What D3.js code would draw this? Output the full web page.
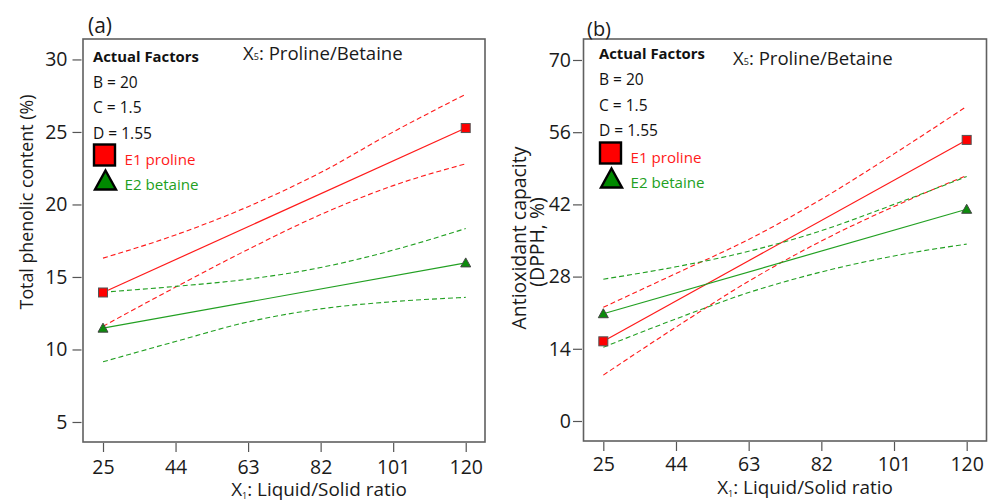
<!DOCTYPE html>
<html><head><meta charset="utf-8">
<script src="https://cdn.jsdelivr.net/npm/d3@7/dist/d3.min.js"></script>
<style>
body{margin:0;background:#fff;}
svg{display:block;font-family:"Open Sans","Noto Sans",sans-serif;}
</style>
</head><body>
<svg id="c" width="988" height="502"></svg>
<script>
// ---------- data ----------
const xLevels = [25, 44, 63, 82, 101, 120];
const xTickValues = [25, 44, 63, 82, 101, 120];
const fitEnds = [25, 120];
const factorLines = ["B = 20", "C = 1.5", "D = 1.55"];
const seriesNames = ["E1 proline", "E2 betaine"];

// panel (a): Total phenolic content (%)
const tpcTicks = [5, 10, 15, 20, 25, 30];
const tpcProlineFit = [13.93, 25.27];
const tpcProlineUpper = [16.3, 17.9, 19.85, 22.2, 25.0, 27.6];
const tpcProlineLower = [11.6, 14.3, 16.9, 19.3, 21.3, 22.8];
const tpcBetaineFit = [11.47, 15.97];
const tpcBetaineUpper = [13.95, 14.35, 14.85, 15.65, 16.85, 18.34];
const tpcBetaineLower = [9.15, 10.55, 11.9, 12.8, 13.3, 13.59];

// panel (b): Antioxidant capacity (DPPH, %)
const dpphTicks = [0, 14, 28, 42, 56, 70];
const dpphProlineFit = [15.45, 54.5];
const dpphProlineUpper = [22.05, 28.6, 35.2, 43.0, 51.8, 61.0];
const dpphProlineLower = [8.9, 18.2, 27.1, 34.9, 41.6, 47.6];
const dpphBetaineFit = [20.8, 41.05];
const dpphBetaineUpper = [27.5, 29.9, 32.9, 36.9, 42.0, 47.4];
const dpphBetaineLower = [14.3, 19.8, 24.9, 28.9, 32.0, 34.3];

// ---------- styles ----------
const RED = "#ff1a1a", GREEN = "#22a022", MARK_GREEN = "#0c8c0c";
const svg = d3.select("#c");

// font-size that makes a text's rendered width match the reference width
function fittedSize(sel, target) {
  const w = sel.node().getComputedTextLength();
  const fs = parseFloat(sel.style("font-size"));
  return w > 0 ? fs * target / w : fs;
}
function fitWidth(sel, target) {
  sel.style("font-size", fittedSize(sel, target).toFixed(2) + "px");
  return sel;
}

function drawPanel(cfg) {
  const g = svg.append("g");
  const x = d3.scaleLinear().domain(cfg.xDomain).range([cfg.left, cfg.right]);
  const y = d3.scaleLinear().domain(cfg.yDomain).range([cfg.bottom, cfg.top]);

  // axes
  const ya = d3.axisLeft(y).tickValues(cfg.yTicks).tickSize(9).tickPadding(cfg.yPad);
  const gy = g.append("g").attr("transform", `translate(${cfg.left - 1.5},0)`).call(ya);
  const xa = d3.axisBottom(x).tickValues(xTickValues).tickSize(9).tickPadding(cfg.xPad);
  const gx = g.append("g").attr("transform", `translate(0,${cfg.bottom + 1})`).call(xa);
  [gy, gx].forEach(a => {
    a.select(".domain").remove();
    a.selectAll(".tick line").attr("stroke", "#555").attr("stroke-width", 1.2);
    a.selectAll(".tick text").attr("fill", "#1a1a1a").style("font-size", "19.5px")
      .style("font-family", '"Open Sans",sans-serif');
  });

  // box
  g.append("rect").attr("x", cfg.left).attr("y", cfg.top)
    .attr("width", cfg.right - cfg.left).attr("height", cfg.bottom - cfg.top)
    .attr("fill", "none").attr("stroke", "#606060").attr("stroke-width", 1.6);

  const curveLine = d3.line().x(d => x(d[0])).y(d => y(d[1])).curve(d3.curveMonotoneX);
  const straight = d3.line().x(d => x(d[0])).y(d => y(d[1]));
  const series = [
    {fit: cfg.prolineFit, up: cfg.prolineUpper, lo: cfg.prolineLower, color: RED, mark: "square"},
    {fit: cfg.betaineFit, up: cfg.betaineUpper, lo: cfg.betaineLower, color: GREEN, mark: "tri"}
  ];
  series.forEach(s => {
    [s.up, s.lo].forEach(arr => {
      g.append("path").attr("d", curveLine(xLevels.map((v, i) => [v, arr[i]])))
        .attr("fill", "none").attr("stroke", s.color).attr("stroke-width", 1.1)
        .attr("stroke-dasharray", "5,3");
    });
    g.append("path").attr("d", straight(fitEnds.map((v, i) => [v, s.fit[i]])))
      .attr("fill", "none").attr("stroke", s.color).attr("stroke-width", 1.2);
  });
  series.forEach(s => {
    fitEnds.forEach((v, i) => {
      const cx = x(v), cy = y(s.fit[i]);
      if (s.mark === "square") {
        g.append("rect").attr("x", cx - 4.5).attr("y", cy - 4.5).attr("width", 9).attr("height", 9)
          .attr("fill", "#ff0000").attr("stroke", "#555").attr("stroke-width", 1);
      } else {
        g.append("path").attr("d", `M${cx},${cy - 5}L${cx + 5},${cy + 4}L${cx - 5},${cy + 4}Z`)
          .attr("fill", MARK_GREEN).attr("stroke", "#444").attr("stroke-width", 1);
      }
    });
  });

  // panel letter
  fitWidth(g.append("text").attr("x", cfg.letterX).attr("y", cfg.letterY).attr("dominant-baseline", "central")
    .style("font-size", "18px").attr("fill", "#1a1a1a").text(cfg.letter), 24);

  // legend block
  const L = cfg.legend;
  fitWidth(g.append("text").attr("x", L.x).attr("y", L.y0).attr("dominant-baseline", "central")
    .style("font-size", "14px").style("font-weight", "bold").attr("fill", "#111").text("Actual Factors"), 106);
  const factorTexts = factorLines.map((t, i) =>
    g.append("text").attr("x", L.x).attr("y", L.y0 + 26.2 + i * 25.6).attr("dominant-baseline", "central")
      .style("font-size", "15px").attr("fill", "#111").text(t));
  const fSize = fittedSize(factorTexts[2], 59) + "px";
  factorTexts.forEach(t => t.style("font-size", fSize));

  g.append("rect").attr("x", L.x + 1).attr("y", L.sqY).attr("width", 21).attr("height", 21)
    .attr("fill", "#ff0000").attr("stroke", "#000").attr("stroke-width", 2.4);
  g.append("path").attr("d", `M${L.x + 12.5},${L.sqY + 26}L${L.x + 23},${L.sqY + 45}L${L.x + 2},${L.sqY + 45}Z`)
    .attr("fill", "#008a00").attr("stroke", "#000").attr("stroke-width", 2.4).attr("stroke-linejoin", "miter");
  const e1 = g.append("text").attr("x", L.x + 31.5).attr("y", L.sqY + 14).attr("dominant-baseline", "central")
    .style("font-size", "15px").attr("fill", RED).text(seriesNames[0]);
  const e2 = g.append("text").attr("x", L.x + 31.5).attr("y", L.sqY + 39.5).attr("dominant-baseline", "central")
    .style("font-size", "15px").attr("fill", GREEN).text(seriesNames[1]);
  const eSize = fittedSize(e1, 71) + "px";
  e1.style("font-size", eSize); e2.style("font-size", eSize);

  // X5 title
  const t5 = g.append("text").attr("x", cfg.x5X).attr("y", cfg.x5Y).attr("dominant-baseline", "central")
    .style("font-size", "18px").attr("fill", "#1a1a1a");
  t5.append("tspan").text("X");
  t5.append("tspan").attr("dy", 4).style("font-size", "9px").text("5");
  t5.append("tspan").attr("dy", -4).text(": Proline/Betaine");
  fitWidth(t5, 160);

  // x-axis title
  const tx = g.append("text").attr("x", cfg.xTitleX).attr("y", cfg.xTitleY).attr("text-anchor", "middle")
    .style("font-size", "18px").attr("fill", "#1a1a1a");
  tx.append("tspan").text("X");
  tx.append("tspan").attr("dy", 3).style("font-size", "9px").text("1");
  tx.append("tspan").attr("dy", -3).text(": Liquid/Solid ratio");
  fitWidth(tx, 176);

  // y-axis title lines (shared size, fitted on the first line)
  const yt = cfg.yTitle.map(t => g.append("text").attr("transform", `translate(${t.x},${t.y}) rotate(-90)`)
      .attr("text-anchor", "middle").attr("dominant-baseline", "central")
      .style("font-size", "18px").attr("fill", "#1a1a1a").text(t.text));
  const ySize = fittedSize(yt[0], cfg.yTitle[0].w) + "px";
  yt.forEach(t => t.style("font-size", ySize));
}

drawPanel({
  left: 83, right: 485, top: 39, bottom: 442,
  xDomain: [19.76, 125.05], yDomain: [3.62, 31.41], yTicks: tpcTicks, yPad: 5, xPad: 8,
  prolineFit: tpcProlineFit, prolineUpper: tpcProlineUpper, prolineLower: tpcProlineLower,
  betaineFit: tpcBetaineFit, betaineUpper: tpcBetaineUpper, betaineLower: tpcBetaineLower,
  letter: "(a)", letterX: 88, letterY: 25,
  legend: {x: 93, y0: 55.5, sqY: 144.5},
  x5X: 243, x5Y: 52,
  xTitleX: 319, xTitleY: 496,
  yTitle: [{text: "Total phenolic content (%)", x: 26, y: 202, w: 215}]
});

drawPanel({
  left: 583.5, right: 986.5, top: 39, bottom: 441,
  xDomain: [19.82, 125.18], yDomain: [-3.88, 74.07], yTicks: dpphTicks, yPad: 2, xPad: 6,
  prolineFit: dpphProlineFit, prolineUpper: dpphProlineUpper, prolineLower: dpphProlineLower,
  betaineFit: dpphBetaineFit, betaineUpper: dpphBetaineUpper, betaineLower: dpphBetaineLower,
  letter: "(b)", letterX: 587, letterY: 28,
  legend: {x: 599, y0: 53, sqY: 142.5},
  x5X: 733, x5Y: 56.5,
  xTitleX: 805, xTitleY: 494,
  yTitle: [{text: "Antioxidant capacity", x: 518, y: 238, w: 183}, {text: "(DPPH, %)", x: 536, y: 242}]
});
</script>
</body></html>
